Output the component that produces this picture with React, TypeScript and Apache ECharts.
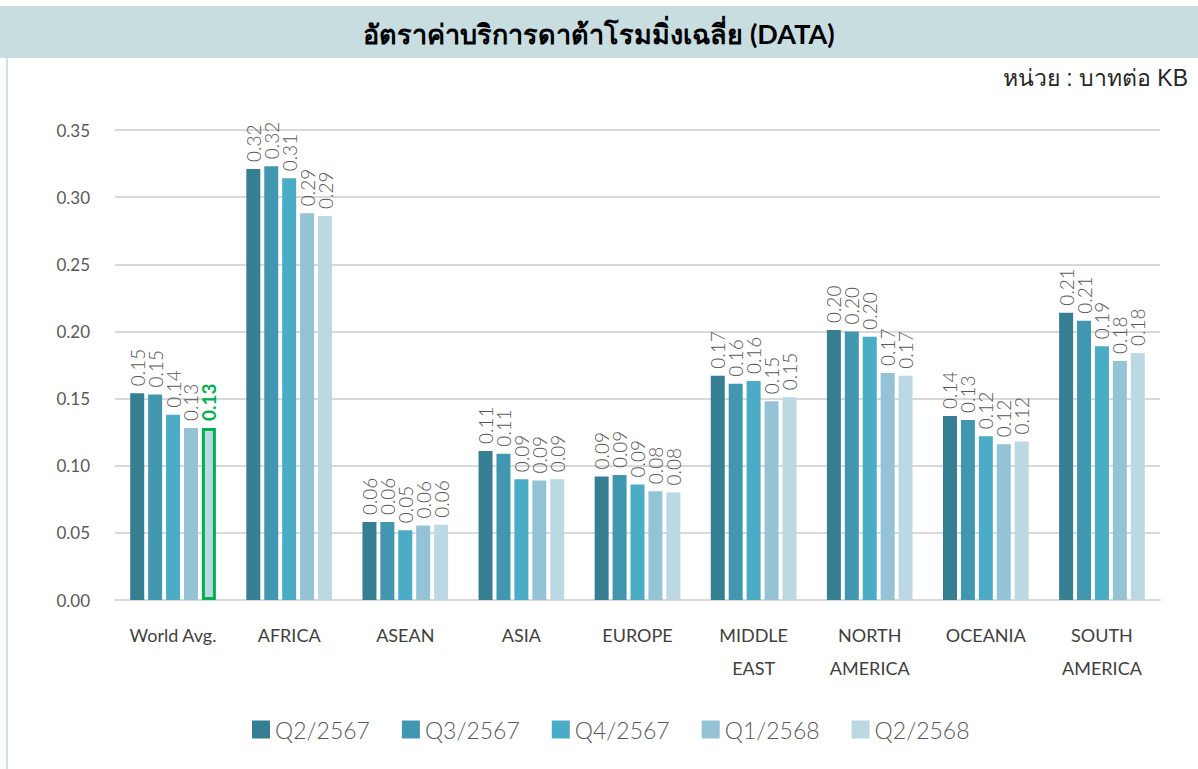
import React, { useEffect, useRef } from "react";
import * as echarts from "echarts";

const categories = ["World Avg.", "AFRICA", "ASEAN", "ASIA", "EUROPE", "MIDDLE\nEAST", "NORTH\nAMERICA", "OCEANIA", "SOUTH\nAMERICA"];
const seriesNames = ["Q2/2567", "Q3/2567", "Q4/2567", "Q1/2568", "Q2/2568"];
const q2_2567 = [0.154, 0.321, 0.058, 0.111, 0.092, 0.167, 0.201, 0.137, 0.214];
const q3_2567 = [0.153, 0.323, 0.058, 0.109, 0.093, 0.161, 0.200, 0.134, 0.208];
const q4_2567 = [0.138, 0.314, 0.052, 0.090, 0.086, 0.163, 0.196, 0.122, 0.189];
const q1_2568 = [0.128, 0.288, 0.0555, 0.089, 0.081, 0.148, 0.169, 0.116, 0.178];
const q2_2568 = [0.128, 0.286, 0.056, 0.090, 0.080, 0.151, 0.167, 0.118, 0.184];
const yTicks = [0, 0.05, 0.1, 0.15, 0.2, 0.25, 0.3, 0.35];
const highlightIndex = 0;

const colors = ["#367f93", "#4297b0", "#4bacc6", "#93c3d5", "#bcd8e2"];
const FONT = "Lato, 'Noto Sans', sans-serif";

export default function App() {
  const ref = useRef<HTMLDivElement>(null);
  useEffect(() => {
    if (!ref.current) return;
    const chart = echarts.init(ref.current, null, { renderer: "svg" });
    const all = [q2_2567, q3_2567, q4_2567, q1_2568, q2_2568];
    const series = all.map((vals, si) => ({
      type: "bar",
      name: seriesNames[si],
      barWidth: 14,
      barGap: "28%",
      itemStyle: { color: colors[si] },
      label: {
        show: true,
        position: "top",
        rotate: 90,
        align: "left",
        verticalAlign: "middle",
        distance: 7,
        fontSize: 19,
        fontWeight: 300,
        fontFamily: FONT,
        color: "#595959",
        formatter: (p: any) => p.value.toFixed(2),
      },
      data: vals.map((v, i) =>
        si === 4 && i === highlightIndex
          ? {
              value: v,
              itemStyle: { color: colors[si], borderColor: "#00b050", borderWidth: 3 },
              label: { color: "#00b050", fontWeight: "bold" },
            }
          : v
      ),
    }));
    chart.setOption({
      animation: false,
      color: colors,
      title: {
        text: "อัตราค่าบริการดาต้าโรมมิ่งเฉลี่ย (DATA)",
        left: "center",
        top: 15,
        textStyle: { fontSize: 27, fontWeight: "bold", color: "#000", fontFamily: FONT },
      },
      graphic: [
        { type: "rect", shape: { x: 0, y: 6, width: 1198, height: 52 }, style: { fill: "#c7dde0" }, z: -10 },
        { type: "line", shape: { x1: 7, y1: 58, x2: 7, y2: 769 }, style: { stroke: "#cfe0e6", lineWidth: 2 } },
        {
          type: "text",
          right: 10,
          top: 66,
          style: { text: "หน่วย : บาทต่อ KB", fontSize: 23, fill: "#262626", font: `23px ${FONT}` },
        },
      ],
      legend: {
        left: 247,
        top: 713,
        icon: "rect",
        itemWidth: 18,
        itemHeight: 18,
        itemGap: 32,
        textStyle: { fontSize: 23, fontWeight: 300, color: "#595959", fontFamily: FONT },
        data: seriesNames,
      },
      grid: { left: 115, right: 38, top: 130, bottom: 169 },
      xAxis: {
        type: "category",
        data: categories,
        axisLine: { lineStyle: { color: "#d9d9d9", width: 2 } },
        axisTick: { show: false },
        axisLabel: { interval: 0, fontSize: 18, color: "#404040", fontFamily: FONT, margin: 18, lineHeight: 33 },
      },
      yAxis: {
        type: "value",
        min: yTicks[0],
        max: yTicks[yTicks.length - 1],
        interval: 0.05,
        axisLine: { show: false },
        axisTick: { show: false },
        splitLine: { lineStyle: { color: "#d9d9d9", width: 2 } },
        axisLabel: { fontSize: 17, color: "#595959", fontFamily: FONT, margin: 25, formatter: (v: number) => v.toFixed(2) },
      },
      series,
    });
    return () => chart.dispose();
  }, []);
  return (
    <div
      ref={ref}
      style={{ position: "fixed", left: 0, top: 0, width: 1198, height: 769, background: "#fff" }}
    />
  );
}
